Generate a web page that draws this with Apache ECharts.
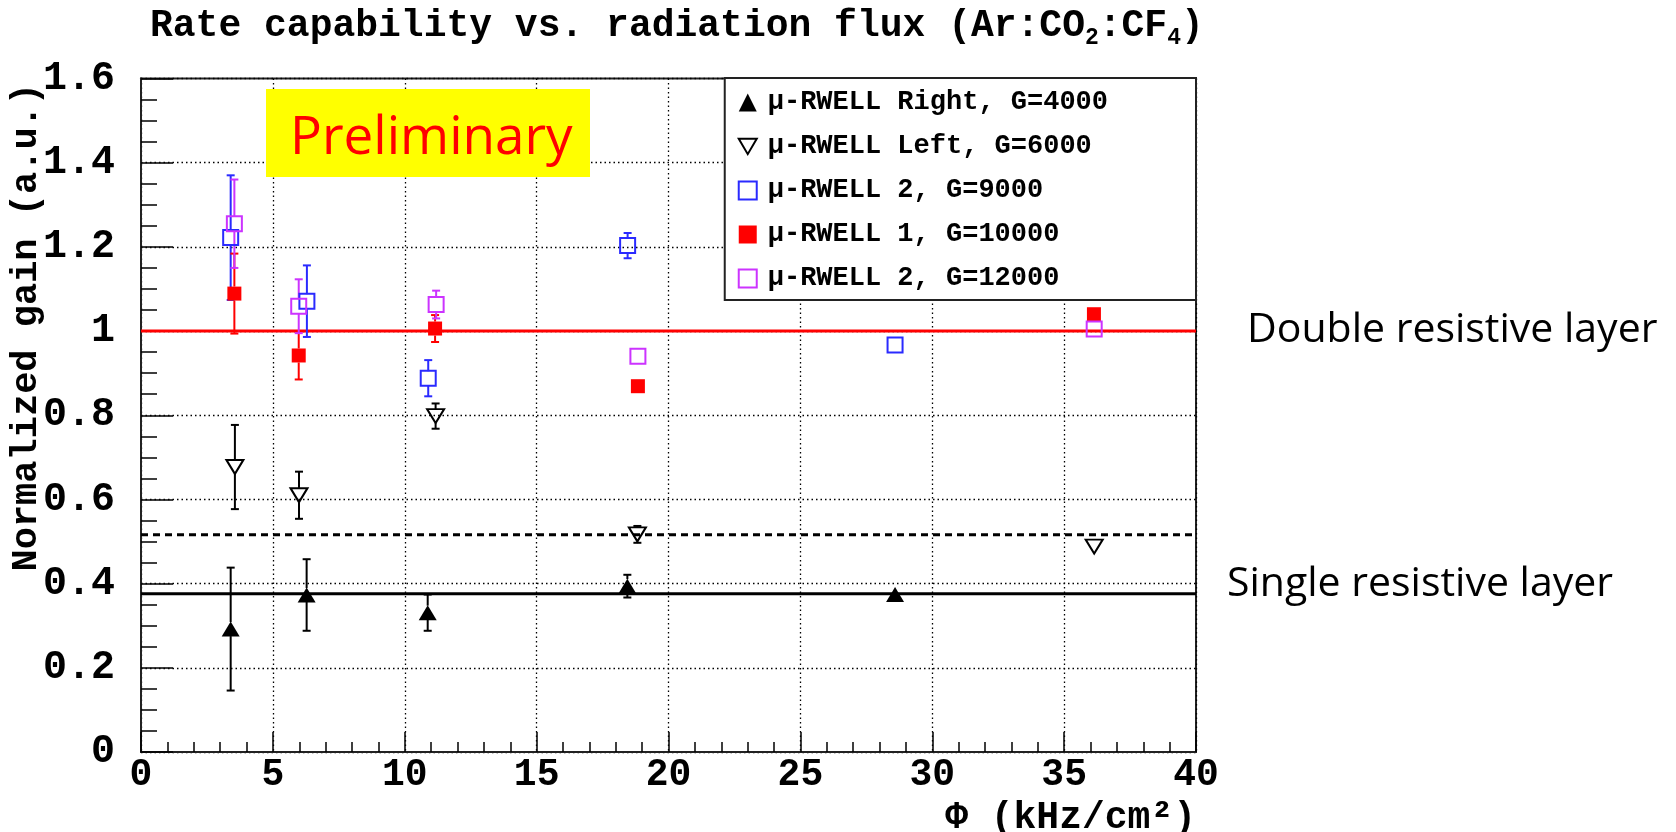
<!DOCTYPE html>
<html><head><meta charset="utf-8">
<script src="https://cdn.jsdelivr.net/npm/echarts@6/dist/echarts.min.js"></script>
<style>html,body{margin:0;padding:0;background:#fff;}#chart{width:1676px;height:832px;}</style>
</head><body><div id="chart"></div>
<script>
// ---- data ----
const seriesNames = ['μ-RWELL Right, G=4000', 'μ-RWELL Left, G=6000', 'μ-RWELL 2, G=9000', 'μ-RWELL 1, G=10000', 'μ-RWELL 2, G=12000'];

const rightX   = [3.40, 6.28, 10.87, 18.44, 28.59];
const rightY   = [0.292, 0.373, 0.331, 0.394, 0.374];
const rightErr = [0.146, 0.085, 0.043, 0.027, 0.005];

const leftX   = [3.56, 5.99, 11.17, 18.82, 36.14];
const leftY   = [0.677, 0.610, 0.798, 0.517, 0.488];
const leftErr = [0.100, 0.056, 0.030, 0.020, 0.005];

const g9000X   = [3.40, 6.29, 10.89, 18.45, 28.59];
const g9000Y   = [1.222, 1.071, 0.888, 1.203, 0.967];
const g9000Err = [0.148, 0.085, 0.043, 0.030, 0.005];

const g10000X   = [3.54, 5.98, 11.15, 18.84, 36.13];
const g10000Y   = [1.089, 0.942, 1.006, 0.869, 1.040];
const g10000Err = [0.095, 0.057, 0.032, 0.010, 0.005];

const g12000X   = [3.54, 5.98, 11.19, 18.84, 36.14];
const g12000Y   = [1.255, 1.059, 1.063, 0.940, 1.005];
const g12000Err = [0.105, 0.064, 0.033, 0.010, 0.005];

const doubleLayerLevel = 1.0;
const leftLevel = 0.516;
const singleLayerLevel = 0.376;

const xMin = 0, xMax = 40, xInterval = 5;
const yMin = 0, yMax = 1.6, yInterval = 0.2;

// ---- styles ----
const MONO = '"Liberation Mono", "DejaVu Sans Mono", monospace';
const SANS = '"Open Sans", "Liberation Sans", sans-serif';
const BLUE = '#2a2aff', RED = '#ff0000', MAG = '#cc33ff', BLACK = '#000000';
const invTri = 'path://M0,0L20,0L10,17Z';

const specs = [
  {name: seriesNames[0], xs: rightX, ys: rightY, es: rightErr, color: BLACK, symbol: 'triangle', size: [18, 15], fill: BLACK},
  {name: seriesNames[1], xs: leftX, ys: leftY, es: leftErr, color: BLACK, symbol: invTri, size: [17, 14], fill: 'rgba(0,0,0,0)'},
  {name: seriesNames[2], xs: g9000X, ys: g9000Y, es: g9000Err, color: BLUE, symbol: 'rect', size: 15, fill: 'rgba(0,0,0,0)'},
  {name: seriesNames[3], xs: g10000X, ys: g10000Y, es: g10000Err, color: RED, symbol: 'rect', size: 14, fill: RED},
  {name: seriesNames[4], xs: g12000X, ys: g12000Y, es: g12000Err, color: MAG, symbol: 'rect', size: 15, fill: 'rgba(0,0,0,0)'}
];

function errorSeries(s) {
  const gap = 7, cap = 4;
  return {
    type: 'custom', name: s.name + ' (err)', silent: true, z: 3,
    encode: {x: 0, y: [1, 2, 3]},
    data: s.xs.map((x, i) => [x, s.ys[i] - s.es[i], s.ys[i] + s.es[i], s.ys[i]]),
    renderItem: function (params, api) {
      const x = api.value(0);
      const lo = api.coord([x, api.value(1)]);
      const hi = api.coord([x, api.value(2)]);
      const c = api.coord([x, api.value(3)]);
      const st = {stroke: s.color, lineWidth: 2};
      const ch = [];
      if (c[1] - hi[1] > gap) {
        ch.push({type: 'line', shape: {x1: c[0], y1: hi[1], x2: c[0], y2: c[1] - gap}, style: st});
        ch.push({type: 'line', shape: {x1: c[0] - cap, y1: hi[1], x2: c[0] + cap, y2: hi[1]}, style: st});
      }
      if (lo[1] - c[1] > gap) {
        ch.push({type: 'line', shape: {x1: c[0], y1: c[1] + gap, x2: c[0], y2: lo[1]}, style: st});
        ch.push({type: 'line', shape: {x1: c[0] - cap, y1: lo[1], x2: c[0] + cap, y2: lo[1]}, style: st});
      }
      return {type: 'group', children: ch};
    }
  };
}

function markerSeries(s) {
  return {
    type: 'scatter', name: s.name, z: 4,
    symbol: s.symbol, symbolSize: s.size,
    itemStyle: {color: s.fill, borderColor: s.color, borderWidth: s.fill === s.color ? 0 : 2, opacity: 1},
    data: s.xs.map((x, i) => [x, s.ys[i]])
  };
}

function levelSeries(name, level, color, type) {
  return {
    type: 'line', name: name, z: 2, silent: true, symbol: 'none',
    lineStyle: {color: color, width: 3, type: type},
    data: [[xMin, level], [xMax, level]]
  };
}

const series = [
  levelSeries('double', doubleLayerLevel, RED, 'solid'),
  levelSeries('leftref', leftLevel, BLACK, [7, 5]),
  levelSeries('single', singleLayerLevel, BLACK, 'solid')
];
specs.forEach(s => series.push(errorSeries(s)));
specs.forEach(s => series.push(markerSeries(s)));

const chart = echarts.init(document.getElementById('chart'), null, {renderer: 'canvas'});
chart.setOption({
  animation: false,
  backgroundColor: '#ffffff',
  title: {
    text: 'Rate capability vs. radiation flux (Ar:CO{s|2}:CF{s|4})',
    left: 145, top: -3,
    textStyle: {
      fontFamily: MONO, fontWeight: 'bold', fontSize: 38, color: '#000', lineHeight: 48,
      rich: {s: {fontFamily: MONO, fontWeight: 'bold', fontSize: 23, color: '#000', lineHeight: 23, verticalAlign: 'bottom'}}
    }
  },
  grid: {left: 141, right: 480, top: 78.5, bottom: 80, outerBoundsMode: 'none', containLabel: false, show: true, borderColor: '#222', borderWidth: 2, backgroundColor: 'rgba(0,0,0,0)'},
  legend: {
    orient: 'vertical', right: 480, top: 78,
    padding: [11, 88, 8, 13],
    itemWidth: 18, itemHeight: 18, itemGap: 17,
    backgroundColor: '#ffffff', borderColor: '#222', borderWidth: 2, borderRadius: 0,
    selectedMode: false,
    textStyle: {fontFamily: MONO, fontWeight: 'bold', fontSize: 27, lineHeight: 26, color: '#000', padding: [0, 0, 0, 6]},
    data: [
      {name: seriesNames[0], icon: 'triangle', itemStyle: {color: BLACK, borderWidth: 0}},
      {name: seriesNames[1], icon: invTri, itemStyle: {color: 'rgba(0,0,0,0)', borderColor: BLACK, borderWidth: 2}},
      {name: seriesNames[2], icon: 'rect', itemStyle: {color: 'rgba(0,0,0,0)', borderColor: BLUE, borderWidth: 2}},
      {name: seriesNames[3], icon: 'rect', itemStyle: {color: RED, borderWidth: 0}},
      {name: seriesNames[4], icon: 'rect', itemStyle: {color: 'rgba(0,0,0,0)', borderColor: MAG, borderWidth: 2}}
    ]
  },
  xAxis: {
    type: 'value', min: xMin, max: xMax, interval: xInterval,
    name: 'Φ (kHz/cm²)', nameLocation: 'end', nameGap: 0, nameMoveOverlap: false,
    nameTextStyle: {fontFamily: MONO, fontWeight: 'bold', fontSize: 38, color: '#000', align: 'right', verticalAlign: 'top', padding: [47, 0, 0, 0]},
    axisLine: {show: true, onZero: false, lineStyle: {color: '#222', width: 2}},
    axisTick: {show: true, inside: true, length: 20, lineStyle: {color: '#000', width: 1.5}},
    minorTick: {show: true, splitNumber: 5, length: 10, lineStyle: {color: '#000', width: 1.5}},
    axisLabel: {fontFamily: MONO, fontWeight: 'bold', fontSize: 38, color: '#000', margin: 4},
    splitLine: {show: true, lineStyle: {color: '#000', width: 1.3, type: [1.5, 3]}}
  },
  yAxis: {
    type: 'value', min: yMin, max: yMax, interval: yInterval,
    name: 'Normalized gain (a.u.)', nameLocation: 'middle', nameGap: 96, nameRotate: 90, nameMoveOverlap: false,
    nameTextStyle: {fontFamily: MONO, fontWeight: 'bold', fontSize: 37, color: '#000', padding: [0, 0, 0, 176]},
    axisLine: {show: true, onZero: false, lineStyle: {color: '#222', width: 2}},
    axisTick: {show: true, inside: true, length: 32, lineStyle: {color: '#000', width: 1.5}},
    minorTick: {show: true, splitNumber: 4, length: 16, lineStyle: {color: '#000', width: 1.5}},
    axisLabel: {fontFamily: MONO, fontWeight: 'bold', fontSize: 40, color: '#000', margin: 26},
    splitLine: {show: true, lineStyle: {color: '#000', width: 1.3, type: [1.5, 3]}}
  },
  graphic: [
    {type: 'rect', shape: {x: 266, y: 89, width: 324, height: 88}, style: {fill: '#ffff00'}, z: 10},
    {type: 'text', z: 11, style: {x: 290, y: 139, text: 'Preliminary', font: '53px ' + SANS, fill: '#ff0000', verticalAlign: 'middle'}},
    {type: 'text', z: 11, style: {x: 1247, y: 330, text: 'Double resistive layer', font: '41px ' + SANS, fill: '#000', verticalAlign: 'middle'}},
    {type: 'text', z: 11, style: {x: 1227, y: 584, text: 'Single resistive layer', font: '41px ' + SANS, fill: '#000', verticalAlign: 'middle'}}
  ],
  series: series
});
</script>
</body></html>
